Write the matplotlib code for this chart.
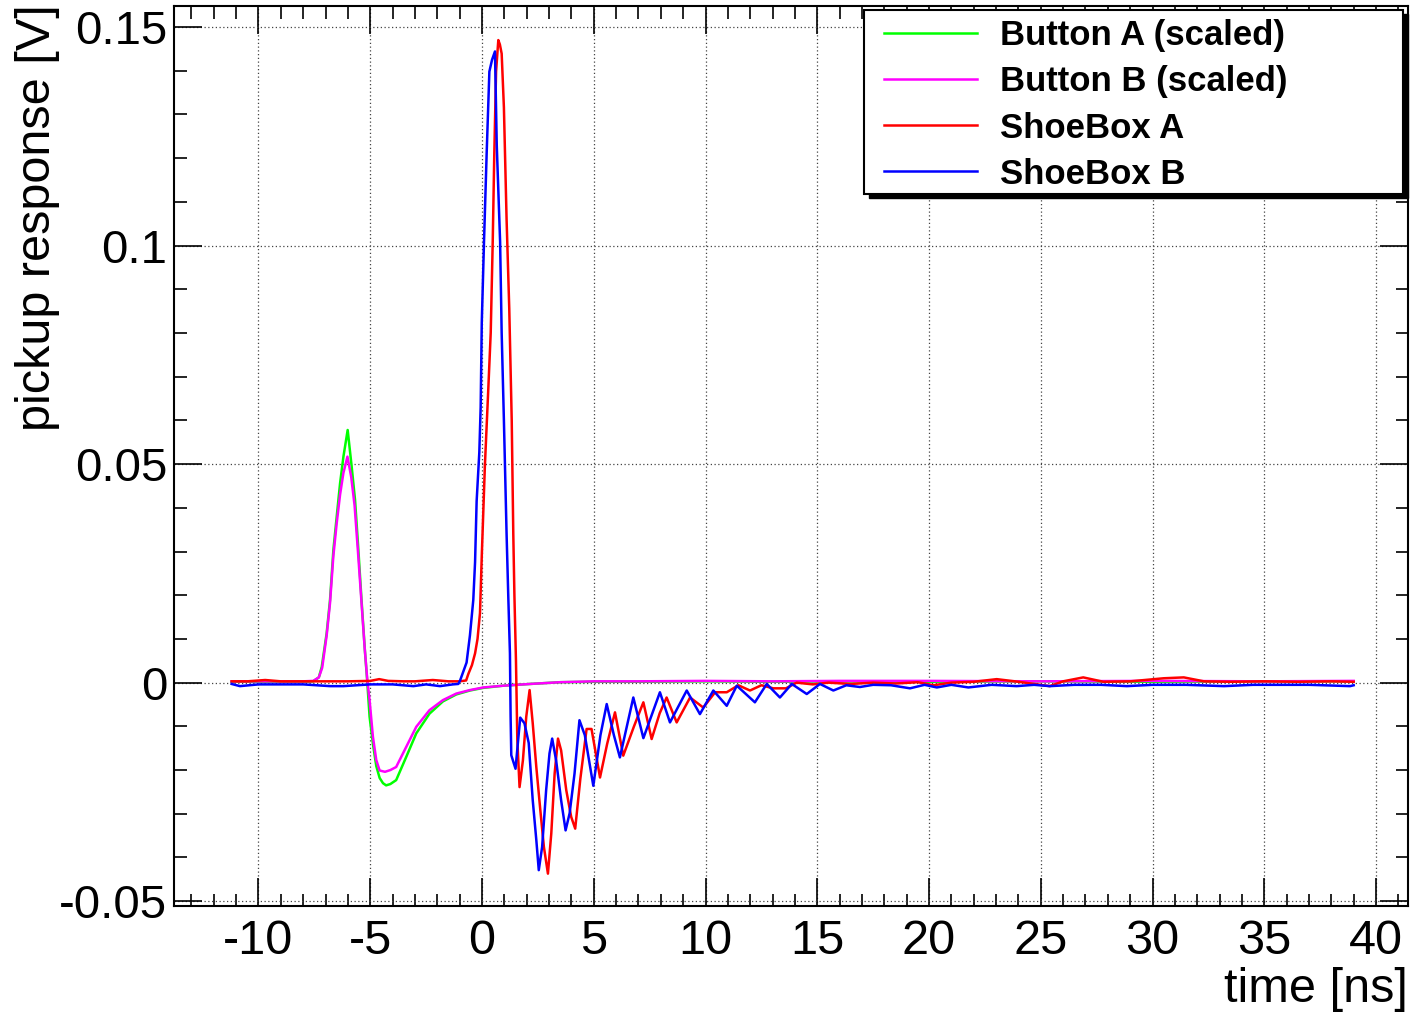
import matplotlib
matplotlib.use("Agg")
import matplotlib.pyplot as plt
from matplotlib.patches import Rectangle
from matplotlib.lines import Line2D

# --- data (time in ns, response in V) ---
t_button_a = [-11.2, -10, -9, -8, -7.55, -7.3, -7.17, -6.95, -6.8, -6.65, -6.5, -6.35,
              -6.2, -6.01, -5.83, -5.68, -5.53, -5.39, -5.24, -5.13, -5.03, -4.88, -4.73,
              -4.58, -4.43, -4.29, -4.1, -3.84, -3.39, -2.94, -2.35, -1.75, -1.15, -0.54,
              0.06, 0.95, 2.15, 3.5, 5, 7, 10, 13, 16, 20, 25, 30, 35, 39]
v_button_a = [0.0002, 0.0002, 0.0002, 0.0002, 0.0003, 0.0012, 0.0036, 0.0113, 0.0189, 0.0303,
              0.0380, 0.0456, 0.0517, 0.0578, 0.0494, 0.0418, 0.0303, 0.0189, 0.0074, 0.0,
              -0.0078, -0.0140, -0.0191, -0.0218, -0.0230, -0.0235, -0.0232, -0.0223, -0.0170,
              -0.0116, -0.0071, -0.0043, -0.0027, -0.0018, -0.0012, -0.0007, -0.0003, 0.0001,
              0.0002, 0.0002, 0.0003, 0.0002, 0.0003, 0.0002, 0.0003, 0.0002, 0.0003, 0.0003]

t_button_b = [-11.2, -10, -9, -8, -7.55, -7.3, -7.15, -6.95, -6.8, -6.65, -6.5, -6.35, -6.2,
              -6.02, -5.85, -5.7, -5.55, -5.4, -5.25, -5.13, -5.03, -4.88, -4.73, -4.58,
              -4.34, -4.1, -3.84, -3.39, -2.94, -2.35, -1.75, -1.15, -0.54, 0.06, 0.95, 2.15,
              3.5, 5, 7, 10, 13, 16, 20, 25, 30, 35, 39]
v_button_b = [0.0003, 0.0003, 0.0003, 0.0003, 0.0004, 0.0012, 0.0034, 0.0108, 0.0182, 0.0290,
              0.0365, 0.0430, 0.0480, 0.0517, 0.0470, 0.0405, 0.0300, 0.0190, 0.0080, 0.0005,
              -0.0040, -0.0124, -0.0177, -0.0201, -0.0204, -0.0200, -0.0193, -0.0147, -0.0101,
              -0.0063, -0.0040, -0.0025, -0.0017, -0.0011, -0.0007, -0.0003, 0.0001, 0.0003,
              0.0003, 0.0004, 0.0003, 0.0004, 0.0004, 0.0003, 0.0004, 0.0003, 0.0004]

t_shoebox_a = [-11.2, -10.5, -9.7, -9.0, -8.0, -7.0, -6.0, -5.0, -4.6, -4.2, -3.5, -3.0, -2.2,
               -1.5, -1.0, -0.71, -0.61, -0.45, -0.31, -0.2, -0.09, -0.01, 0.13, 0.28, 0.39,
               0.48, 0.55, 0.63, 0.73, 0.8, 0.88, 0.98, 1.1, 1.22, 1.33, 1.4, 1.45, 1.52, 1.58,
               1.68, 1.83, 1.98, 2.13, 2.27, 2.43, 2.61, 2.77, 2.95, 3.1, 3.25, 3.4, 3.54, 3.77,
               3.99, 4.17, 4.4, 4.68, 4.9, 5.28, 5.6, 5.95, 6.32, 6.8, 7.22, 7.59, 7.95, 8.26,
               8.71, 9.31, 9.9, 10.43, 10.95, 11.47, 11.99, 12.5, 13.03, 13.6, 14.08, 14.8,
               15.5, 16.5, 17.5, 18.5, 19.5, 20.2, 21.0, 22.0, 23.03, 24.0, 25.4, 26.0, 26.9,
               27.8, 29.0, 30.5, 31.4, 32.3, 33.5, 35.0, 36.5, 38.0, 39.0]
v_shoebox_a = [0.0003, 0.0003, 0.0006, 0.0003, 0.0003, 0.0003, 0.0003, 0.0004, 0.0008, 0.0004,
               0.0003, 0.0003, 0.0006, 0.0003, 0.0003, 0.0005, 0.0020, 0.0040, 0.0067, 0.0100,
               0.0159, 0.0290, 0.0497, 0.0670, 0.0800, 0.1009, 0.1210, 0.1398, 0.1470, 0.1460,
               0.1439, 0.1316, 0.1060, 0.0855, 0.0600, 0.0340, 0.0200, 0.0050, -0.0130, -0.0239,
               -0.0178, -0.0078, -0.0017, -0.0093, -0.0193, -0.0292, -0.0376, -0.0437, -0.0345,
               -0.0208, -0.0128, -0.0155, -0.0246, -0.0307, -0.0334, -0.0220, -0.0106, -0.0106,
               -0.0217, -0.0140, -0.0068, -0.0167, -0.0100, -0.0045, -0.0129, -0.0070, -0.0034,
               -0.0091, -0.0034, -0.0057, -0.0022, -0.0022, -0.0006, -0.0018, -0.0006, -0.0013,
               -0.0013, 0.0000, -0.0004, 0.0000, -0.0003, 0.0000, -0.0002, 0.0001, -0.0006,
               0.0000, 0.0002, 0.0008, 0.0002, -0.0008, 0.0003, 0.0012, 0.0002, 0.0003, 0.0010,
               0.0012, 0.0003, 0.0002, 0.0003, 0.0002, 0.0003, 0.0002]

t_shoebox_b = [-11.2, -10.83, -10.0, -9.0, -8.0, -6.8, -6.2, -5.0, -4.0, -3.07, -2.5, -1.88,
               -1.3, -1.06, -0.98, -0.69, -0.54, -0.39, -0.31, -0.24, -0.12, -0.06, -0.01, 0.09,
               0.21, 0.33, 0.45, 0.58, 0.66, 0.81, 0.88, 0.98, 1.1, 1.18, 1.25, 1.28, 1.31, 1.5,
               1.71, 1.9, 2.09, 2.27, 2.43, 2.54, 2.69, 2.87, 3.02, 3.14, 3.32, 3.54, 3.74, 3.92,
               4.14, 4.36, 4.6, 4.98, 5.3, 5.58, 5.9, 6.17, 6.77, 7.22, 7.96, 8.41, 9.16, 9.75,
               10.35, 10.95, 11.4, 12.21, 12.74, 13.33, 13.86, 14.53, 15.12, 15.72, 16.3, 16.91,
               17.5, 18.3, 19.15, 19.8, 20.35, 21.0, 21.76, 22.8, 23.92, 24.7, 25.41, 26.5,
               27.7, 28.85, 30.0, 31.5, 33.2, 34.5, 35.5, 37.0, 38.84, 39.0]
v_shoebox_b = [-0.0003, -0.0008, -0.0004, -0.0004, -0.0004, -0.0008, -0.0008, -0.0004, -0.0004,
               -0.0008, -0.0004, -0.0008, -0.0004, -0.0003, 0.0005, 0.0046, 0.0108, 0.0189,
               0.0276, 0.0415, 0.0527, 0.0630, 0.0824, 0.1009, 0.1213, 0.1398, 0.1425, 0.1444,
               0.1230, 0.1009, 0.0800, 0.0600, 0.0340, 0.0190, 0.0067, -0.0077, -0.0166, -0.0197,
               -0.0080, -0.0093, -0.0138, -0.0269, -0.0360, -0.0429, -0.0376, -0.0246, -0.0162,
               -0.0128, -0.0179, -0.0269, -0.0338, -0.0299, -0.0208, -0.0086, -0.0120, -0.0236,
               -0.0120, -0.0049, -0.0120, -0.0171, -0.0034, -0.0127, -0.0022, -0.0091, -0.0018,
               -0.0072, -0.0018, -0.0053, -0.0007, -0.0045, -0.0003, -0.0034, -0.0003, -0.0026,
               -0.0003, -0.0018, -0.0006, -0.0010, -0.0005, -0.0006, -0.0013, -0.0005, -0.0011,
               -0.0005, -0.0011, -0.0005, -0.0008, -0.0005, -0.0008, -0.0005, -0.0005, -0.0008,
               -0.0005, -0.0005, -0.0008, -0.0005, -0.0005, -0.0005, -0.0008, -0.0006]

labels = ["Button A (scaled)", "Button B (scaled)", "ShoeBox A", "ShoeBox B"]
colors = ["#00ff00", "#ff00ff", "#ff0000", "#0000ff"]

plt.rcParams['font.family'] = ['Liberation Sans', 'DejaVu Sans']
plt.rcParams['axes.unicode_minus'] = False

fig = plt.figure(figsize=(14.1, 10.16), dpi=100)
W, H = 1410, 1016
ax = fig.add_axes([174 / W, (H - 906) / H, (1408 - 174) / W, (906 - 6) / H])

series = [(t_button_a, v_button_a), (t_button_b, v_button_b),
          (t_shoebox_a, v_shoebox_a), (t_shoebox_b, v_shoebox_b)]
for (t, v), c, lab in zip(series, colors, labels):
    ax.plot(t, v, color=c, lw=1.8, label=lab)

ax.set_xlim(-13.78, 41.43)
ax.set_ylim(-0.0511, 0.1548)
ax.set_xticks(range(-10, 41, 5))
ax.set_xticks(range(-13, 42), minor=True)
ax.set_yticks([-0.05, 0, 0.05, 0.1, 0.15])
ax.set_yticklabels(["-0.05", "0", "0.05", "0.1", "0.15"])
ax.set_yticks([i / 100 for i in range(-5, 16)], minor=True)

ax.tick_params(which='both', direction='in', top=True, right=True, width=1.2)
ax.tick_params(which='major', length=20)
ax.tick_params(which='minor', length=9)
ax.tick_params(axis='x', labelsize=35, pad=9)
ax.tick_params(axis='y', labelsize=34, pad=5)
for s in ax.spines.values():
    s.set_linewidth(1.5)

ax.grid(True, which='major', color='#444444', linestyle=(0, (1, 2)), linewidth=0.9)

fig.text(38 / W, 1 - 4 / H, "pickup response [V]", rotation=90, ha='center', va='top', fontsize=35)
fig.text(1408 / W, 4 / H, "time [ns]", ha='right', va='bottom', fontsize=35)

# legend box with a solid black shadow, ROOT style
def px(x, y):
    return x / W, 1 - y / H

x0, y0, x1, y1 = 864, 10, 1403, 194
fig.add_artist(Rectangle(px(x0 + 5, y1 + 4), (x1 - x0) / W, (y1 - y0) / H,
                         transform=fig.transFigure, facecolor='black', edgecolor='black', zorder=10))
fig.add_artist(Rectangle(px(x0, y1), (x1 - x0) / W, (y1 - y0) / H,
                         transform=fig.transFigure, facecolor='white', edgecolor='black',
                         linewidth=1.5, zorder=11))
row_y = [33, 79, 125, 171]
for ry, c, lab in zip(row_y, colors, labels):
    fig.add_artist(Line2D([884 / W, 977 / W], [1 - ry / H, 1 - ry / H], color=c, lw=1.8,
                          transform=fig.transFigure, zorder=12))
    fig.text(1000 / W, 1 - (ry + 12.5) / H, lab, ha='left', va='baseline', fontsize=25,
             fontweight='bold', zorder=12)

fig.savefig("out.png", dpi=100)
